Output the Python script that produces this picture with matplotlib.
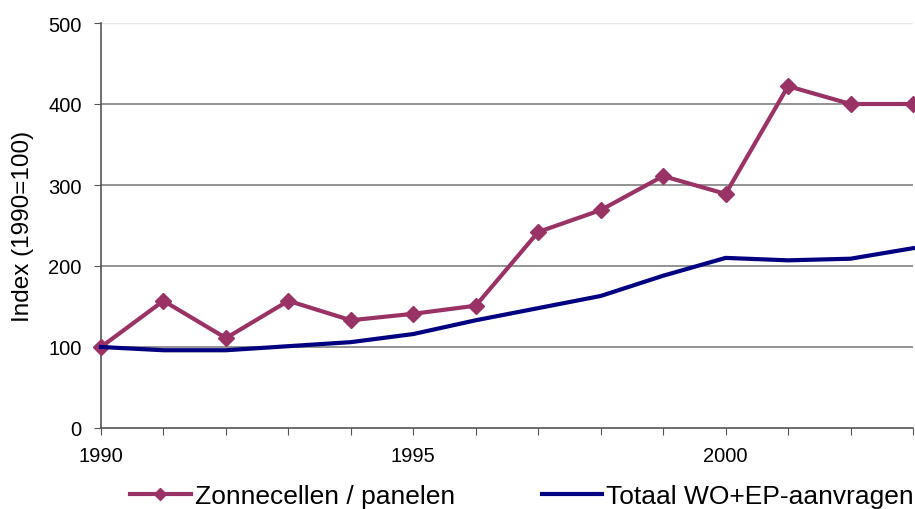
import matplotlib
matplotlib.use("Agg")
import matplotlib.pyplot as plt

plt.rcParams['font.family'] = ['Liberation Sans', 'DejaVu Sans']

years = list(range(1990, 2004))
zonnecellen = [100, 157, 111, 157, 133, 141, 151, 242, 269, 311, 289, 422, 400, 400]
totaal = [100, 96, 96, 101, 106, 116, 133, 148, 163, 188, 210, 207, 209, 222]

fig = plt.figure(figsize=(9.15, 5.1), dpi=100)
ax = fig.add_axes([101/915, 1 - 429/510, 812/915, 405/510])

ax.plot(years, zonnecellen, color="#993366", lw=3, marker="D", ms=8,
        label="Zonnecellen / panelen", clip_on=False, zorder=3)
ax.plot(years, totaal, color="#000080", lw=3, label="Totaal WO+EP-aanvragen",
        clip_on=False, zorder=3)

ax.set_xlim(1990, 2003)
ax.set_ylim(0, 500)
ax.set_yticks(range(0, 501, 100))
ax.set_xticks(years)
ax.set_xticklabels([str(y) if y % 5 == 0 else "" for y in years])
ax.tick_params(axis="both", labelsize=14.5, color="#555555", length=5, direction="out")
ax.tick_params(axis="x", pad=8)
ax.tick_params(axis="y", pad=9)

for v in range(100, 500, 100):
    ax.axhline(v, color="#808080", lw=1.2, zorder=1)
ax.axhline(500, color="#e6e6e6", lw=1, zorder=1)

for s in ["top", "right"]:
    ax.spines[s].set_visible(False)
for s in ["left", "bottom"]:
    ax.spines[s].set_color("#555555")
    ax.spines[s].set_linewidth(1.2)

ax.set_ylabel("Index (1990=100)", fontsize=17.5)
ax.yaxis.set_label_coords(-0.083, 0.5)

fig.legend(loc="center", bbox_to_anchor=(522/915, 1 - 497/510), ncol=2, frameon=False,
           fontsize=19, handlelength=2.3, columnspacing=3.3, handletextpad=0.15,
           markerscale=0.75, borderpad=0)

fig.savefig("out.png", dpi=100)
